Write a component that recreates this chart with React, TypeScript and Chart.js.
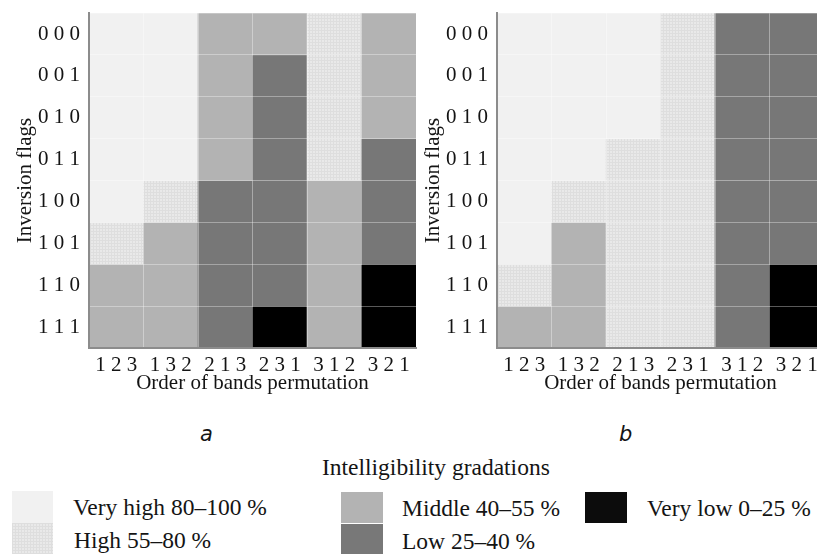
import React, { useEffect, useRef } from "react";
import { Chart, registerables } from "chart.js";

Chart.register(...registerables);

const permutations = ["1 2 3", "1 3 2", "2 1 3", "2 3 1", "3 1 2", "3 2 1"];
const inversionFlags = ["0 0 0", "0 0 1", "0 1 0", "0 1 1", "1 0 0", "1 0 1", "1 1 0", "1 1 1"];
const gradations = ["Very high 80–100 %", "High 55–80 %", "Middle 40–55 %", "Low 25–40 %", "Very low 0–25 %"];
const panelLabels = ["a", "b"];

// grade per row (inversion flags) and column (permutation): 0 very high, 1 high, 2 middle, 3 low, 4 very low
const gradesA = [
  [0, 0, 2, 2, 1, 2],
  [0, 0, 2, 3, 1, 2],
  [0, 0, 2, 3, 1, 2],
  [0, 0, 2, 3, 1, 3],
  [0, 1, 3, 3, 2, 3],
  [1, 2, 3, 3, 2, 3],
  [2, 2, 3, 3, 2, 4],
  [2, 2, 3, 4, 2, 4],
];
const gradesB = [
  [0, 0, 0, 1, 3, 3],
  [0, 0, 0, 1, 3, 3],
  [0, 0, 0, 1, 3, 3],
  [0, 0, 1, 1, 3, 3],
  [0, 1, 1, 1, 3, 3],
  [0, 2, 1, 1, 3, 3],
  [1, 2, 1, 1, 3, 4],
  [2, 2, 1, 1, 3, 4],
];

const SERIF = "'Liberation Serif', 'Times New Roman', serif";
const TEXT = "#141414";
const solidColors = ["#f1f1f1", null, "#b3b3b3", "#777777", "#000000"];
const legendColors = ["#f1f1f1", null, "#b3b3b3", "#787878", "#0c0c0c"];
const hatchCss = {
  backgroundColor: "#e9e9e9",
  backgroundImage:
    "linear-gradient(90deg, #dedede 1px, transparent 1px), linear-gradient(#dedede 1px, transparent 1px)",
  backgroundSize: "3px 3px",
};

function Heatmap({ grades, left }: { grades: number[][]; left: number }) {
  const ref = useRef<HTMLCanvasElement>(null);
  useEffect(() => {
    const canvas = ref.current!;
    const tile = document.createElement("canvas");
    tile.width = 3;
    tile.height = 3;
    const t = tile.getContext("2d")!;
    t.fillStyle = "#e9e9e9";
    t.fillRect(0, 0, 3, 3);
    t.fillStyle = "#dedede";
    t.fillRect(0, 0, 3, 1);
    t.fillRect(0, 0, 1, 3);
    const pattern = canvas.getContext("2d")!.createPattern(tile, "repeat");
    const fills: any[] = solidColors.map((c) => (c === null ? pattern : c));

    const datasets = inversionFlags.map((flag, r) => ({
      label: flag,
      data: permutations.map(() => 1),
      backgroundColor: grades[r].map((g) => fills[g]),
      borderWidth: 0,
      barPercentage: 1,
      categoryPercentage: 1,
    }));

    const gridColor = (last: number) => (c: any) =>
      c.index === 0 || c.index === last ? "rgba(0,0,0,0)" : "rgba(255,255,255,0.35)";

    const chart = new Chart(canvas, {
      type: "bar",
      data: { labels: permutations, datasets },
      options: {
        responsive: false,
        animation: false,
        devicePixelRatio: 1,
        layout: { padding: { top: 13, right: 4, left: 0, bottom: 0 } },
        plugins: { legend: { display: false }, tooltip: { enabled: false } },
        scales: {
          x: {
            type: "category",
            stacked: true,
            grid: { z: 1, offset: true, drawTicks: false, color: gridColor(permutations.length), lineWidth: 1 },
            border: { z: 2, display: true, color: "#8c8c8c", width: 2 },
            ticks: {
              padding: 5,
              color: TEXT,
              font: { family: SERIF, size: 21 },
              maxRotation: 0,
              autoSkip: false,
            },
            title: {
              display: true,
              text: "Order of bands permutation",
              color: TEXT,
              font: { family: SERIF, size: 21, lineHeight: 1.2 },
              padding: { top: 0, bottom: 4 },
            },
            afterFit: (s: any) => {
              s.height = 52;
              s.paddingLeft = 0;
              s.paddingRight = 0;
            },
          },
          y: {
            type: "linear",
            stacked: true,
            reverse: true,
            min: 0,
            max: inversionFlags.length,
            grid: { z: 1, drawTicks: false, color: gridColor(inversionFlags.length), lineWidth: 1 },
            border: { z: 2, display: true, color: "#8c8c8c", width: 2 },
            ticks: {
              stepSize: 1,
              autoSkip: false,
              padding: 9,
              labelOffset: 21,
              color: TEXT,
              font: { family: SERIF, size: 21 },
              callback: (v: any) => inversionFlags[v] ?? "",
            },
            title: {
              display: true,
              text: "Inversion flags",
              color: TEXT,
              font: { family: SERIF, size: 21, lineHeight: 1.2 },
              padding: { top: 13, bottom: 0 },
            },
            afterFit: (s: any) => {
              s.width = 89;
              s.paddingTop = 0;
              s.paddingBottom = 0;
            },
          },
        },
      } as any,
    });
    return () => chart.destroy();
  }, [grades]);
  return (
    <canvas
      ref={ref}
      width={420}
      height={400}
      style={{ position: "absolute", left, top: 0, width: 420, height: 400 }}
    />
  );
}

const textStyle = (left: number, centerY: number, size = 23.5): React.CSSProperties => ({
  position: "absolute",
  left,
  top: centerY - 15,
  height: 30,
  lineHeight: "30px",
  fontFamily: SERIF,
  fontSize: size,
  color: TEXT,
  whiteSpace: "nowrap",
});

export default function App() {
  const swatches = [
    { x: 12, y: 491, w: 41, h: 32, tx: 73, ty: 507 },
    { x: 12, y: 523, w: 41, h: 32, tx: 74, ty: 540 },
    { x: 341, y: 492, w: 42, h: 31, tx: 402, ty: 508 },
    { x: 341, y: 524, w: 42, h: 31, tx: 402, ty: 541 },
    { x: 585, y: 492, w: 42, h: 31, tx: 647, ty: 508 },
  ];
  return (
    <div
      style={{
        position: "fixed",
        left: 0,
        top: 0,
        width: 817,
        height: 554,
        overflow: "hidden",
        background: "#ffffff",
      }}
    >
      <Heatmap grades={gradesA} left={0} />
      <Heatmap grades={gradesB} left={408} />
      {panelLabels.map((p, i) => (
        <div
          key={p}
          style={{
            position: "absolute",
            left: i === 0 ? 200 : 619,
            top: 420,
            height: 28,
            lineHeight: "28px",
            fontFamily: "'DejaVu Sans', sans-serif",
            fontStyle: "italic",
            fontSize: 21,
            color: TEXT,
          }}
        >
          {p}
        </div>
      ))}
      <div style={textStyle(322, 467)}>Intelligibility gradations</div>
      {gradations.map((g, i) => {
        const s = swatches[i];
        const bg: React.CSSProperties =
          legendColors[i] === null ? hatchCss : { backgroundColor: legendColors[i] as string };
        return (
          <React.Fragment key={g}>
            <div style={{ position: "absolute", left: s.x, top: s.y, width: s.w, height: s.h, ...bg }} />
            <div style={textStyle(s.tx, s.ty)}>{g}</div>
          </React.Fragment>
        );
      })}
    </div>
  );
}
